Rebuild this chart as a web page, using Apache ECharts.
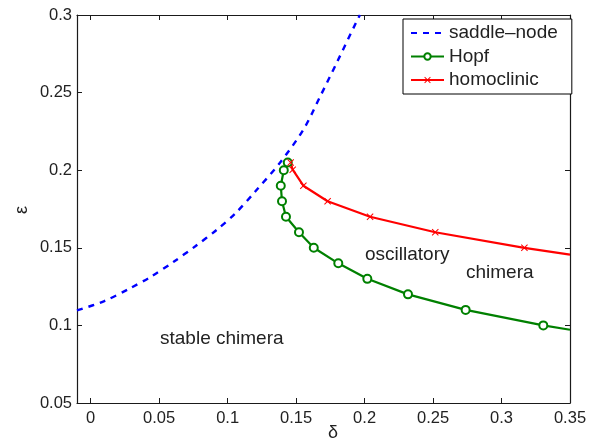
<!DOCTYPE html>
<html>
<head>
<meta charset="utf-8">
<script src="https://cdn.jsdelivr.net/npm/echarts@6/dist/echarts.min.js"></script>
<style>html,body{margin:0;padding:0;background:#fff}#c{width:599px;height:444px}</style>
</head>
<body>
<div id="c"></div>
<script>
// Data
const xTicks = [0, 0.05, 0.1, 0.15, 0.2, 0.25, 0.3, 0.35];
const yTicks = [0.05, 0.1, 0.15, 0.2, 0.25, 0.3];

const saddleX = [-0.01, 0.0095, 0.0289, 0.0435, 0.0606, 0.0764, 0.0922, 0.1061, 0.120, 0.1382, 0.1553, 0.1675, 0.1796, 0.1942, 0.1966];
const saddleY = [0.1097, 0.1155, 0.1240, 0.1311, 0.1410, 0.1510, 0.1617, 0.1726, 0.1861, 0.2048, 0.2261, 0.2474, 0.2691, 0.2959, 0.3];

const hopfX = [0.1439, 0.141, 0.1388, 0.1397, 0.1426, 0.1521, 0.1629, 0.1808, 0.202, 0.2317, 0.2738, 0.3305, 0.35];
const hopfY = [0.205, 0.2, 0.19, 0.18, 0.17, 0.16, 0.15, 0.14, 0.13, 0.12, 0.11, 0.10, 0.0972];

const homoX = [0.146, 0.1475, 0.1553, 0.173, 0.204, 0.2516, 0.3167, 0.35];
const homoY = [0.205, 0.2003, 0.19, 0.18, 0.17, 0.16, 0.15, 0.1456];

const regionLabels = ['stable chimera', 'oscillatory', 'chimera'];

function pairs(xs, ys, lastNoSymbol) {
  return xs.map((x, i) => {
    const v = [x, ys[i]];
    if (lastNoSymbol && i === xs.length - 1) return { value: v, symbol: 'none' };
    return v;
  });
}

const crossPath = 'path://M0,1 L1,0 L5,4 L9,0 L10,1 L6,5 L10,9 L9,10 L5,6 L1,10 L0,9 L4,5 Z';
const fontFam = '"Liberation Sans", Arial, Helvetica, sans-serif';
const axisCol = '#1a1a1a';

const chart = echarts.init(document.getElementById('c'), null, { renderer: 'canvas' });

const baseX = {
  type: 'value', min: -0.01, max: 0.35,
  axisLine: { show: true, onZero: false, lineStyle: { color: axisCol, width: 1.2 } },
  splitLine: { show: false },
};
const baseY = {
  type: 'value', min: 0.05, max: 0.3, interval: 0.05,
  axisLine: { show: true, onZero: false, lineStyle: { color: axisCol, width: 1.2 } },
  splitLine: { show: false },
};

chart.setOption({
  animation: false,
  backgroundColor: '#fff',
  grid: { left: 77, right: 29, top: 15, bottom: 41, containLabel: false },
  xAxis: [
    Object.assign({}, baseX, {
      position: 'bottom',
      axisTick: { show: true, inside: true, length: 5, customValues: xTicks, lineStyle: { color: axisCol } },
      axisLabel: { show: true, customValues: xTicks, margin: 7, color: '#222', fontSize: 16.5, fontFamily: fontFam,
        formatter: v => String(+v.toFixed(2)) },
    }),
    Object.assign({}, baseX, {
      position: 'top',
      axisTick: { show: true, inside: true, length: 5, customValues: xTicks, lineStyle: { color: axisCol } },
      axisLabel: { show: false },
    }),
  ],
  yAxis: [
    Object.assign({}, baseY, {
      position: 'left',
      axisTick: { show: true, inside: true, length: 5, lineStyle: { color: axisCol } },
      axisLabel: { show: true, margin: 5, color: '#222', fontSize: 16.5, fontFamily: fontFam,
        formatter: v => String(+v.toFixed(2)) },
    }),
    Object.assign({}, baseY, {
      position: 'right',
      axisTick: { show: true, inside: true, length: 5, lineStyle: { color: axisCol } },
      axisLabel: { show: false },
    }),
  ],
  legend: {
    left: 403, top: 19, orient: 'vertical',
    backgroundColor: '#fff', borderColor: '#000', borderWidth: 1,
    padding: [4, 14, 4, 7],
    itemWidth: 33, itemHeight: 8, itemGap: 3.5,
    textStyle: { fontSize: 19, lineHeight: 20, color: '#222', fontFamily: fontFam },
    data: [
      { name: 'saddle\u2013node', itemStyle: { color: 'rgba(0,0,0,0)', borderColor: 'rgba(0,0,0,0)', borderWidth: 0, opacity: 0 } },
      'Hopf',
      'homoclinic'
    ],
  },
  series: [
    {
      name: 'saddle\u2013node', type: 'line', data: pairs(saddleX, saddleY, false),
      showSymbol: false, symbol: 'none', smooth: 0.3, clip: true,
      lineStyle: { color: '#0000ff', width: 2.4, type: [6, 6] },
      itemStyle: { color: '#0000ff' },
    },
    {
      name: 'Hopf', type: 'line', data: pairs(hopfX, hopfY, true),
      symbol: 'emptyCircle', symbolSize: 8, clip: true,
      lineStyle: { color: '#008000', width: 2.2 },
      itemStyle: { color: '#008000', borderColor: '#008000', borderWidth: 1.8 },
    },
    {
      name: 'homoclinic', type: 'line', data: pairs(homoX, homoY, true),
      symbol: crossPath, symbolSize: 7, clip: true,
      lineStyle: { color: '#ff0000', width: 2.2 },
      itemStyle: { color: '#ff0000' },
    },
  ],
  graphic: [
    { type: 'text', left: 160, top: 329, style: { text: regionLabels[0], fontSize: 19, fill: '#222', fontFamily: fontFam } },
    { type: 'text', left: 365, top: 245, style: { text: regionLabels[1], fontSize: 19, fill: '#222', fontFamily: fontFam } },
    { type: 'text', left: 466, top: 263, style: { text: regionLabels[2], fontSize: 19, fill: '#222', fontFamily: fontFam } },
    { type: 'text', x: 333, y: 433, style: { text: '\u03b4', fontSize: 18, fill: '#222', fontFamily: fontFam, align: 'center', verticalAlign: 'middle' } },
    { type: 'text', x: 22, y: 210, rotation: Math.PI / 2, style: { text: '\u03b5', fontSize: 18, fill: '#222', fontFamily: fontFam, align: 'center', verticalAlign: 'middle' } },
  ],
});
</script>
</body>
</html>
